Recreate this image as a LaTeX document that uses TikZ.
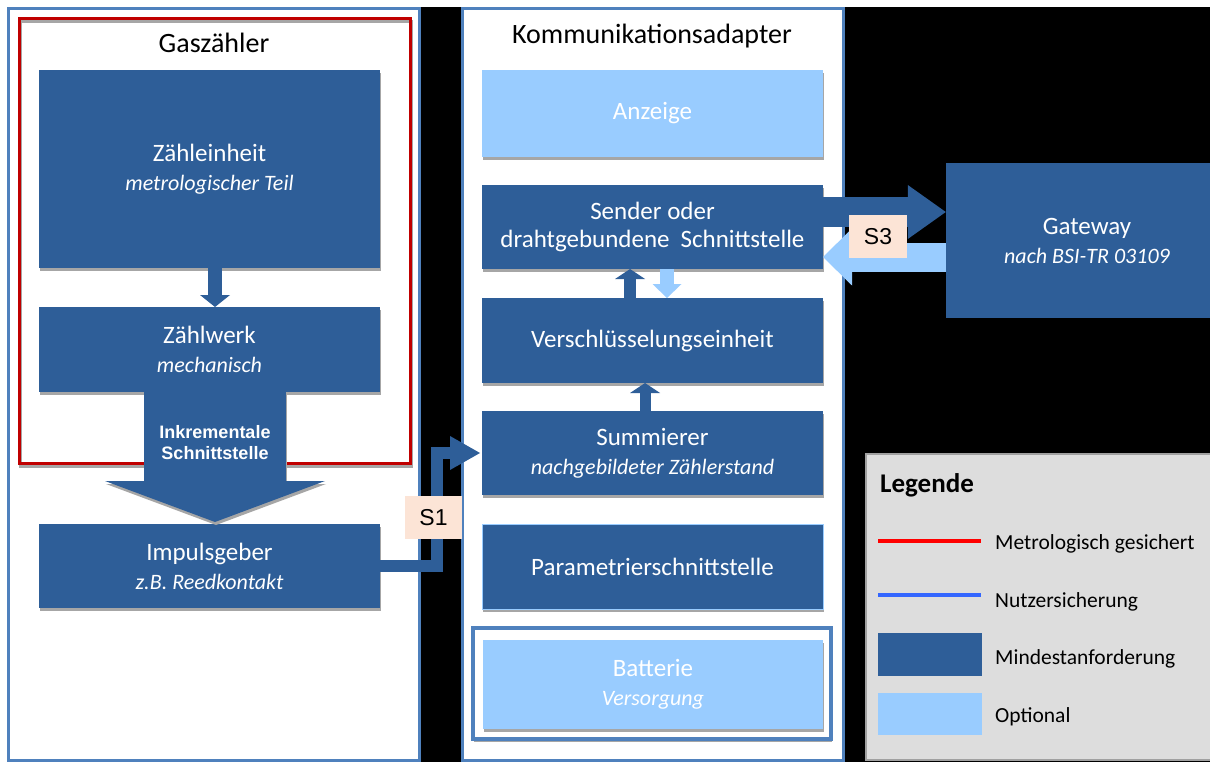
\documentclass[tikz,border=0pt]{standalone}
\usepackage{fontspec}
\setmainfont{Carlito}
\newfontfamily\arialf{Liberation Sans}
\usetikzlibrary{arrows.meta,shadows,calc}
\definecolor{dkblue}{RGB}{46,94,152}
\definecolor{ltblue}{RGB}{153,204,255}
\definecolor{panelblue}{RGB}{79,129,189}
\definecolor{metred}{RGB}{192,0,0}
\definecolor{peach}{RGB}{252,228,214}
\definecolor{leggray}{RGB}{221,221,221}
\definecolor{legborder}{RGB}{160,160,160}
\definecolor{shadowgray}{RGB}{166,166,166}
\definecolor{legred}{RGB}{255,0,0}
\definecolor{legblue}{RGB}{51,102,255}
\newcommand\subitline[1]{{\fontsize{22}{28}\selectfont\itshape #1}}
\begin{document}
\begin{tikzpicture}[x=1pt,y=-1pt,
  boxbase/.style={rectangle, inner sep=0pt, outer sep=0pt, text=white, align=center,
    font=\fontsize{25}{28}\selectfont,
    drop shadow={shadow xshift=1pt, shadow yshift=-3pt, fill=shadowgray, opacity=1}},
  darkbox/.style={boxbase, fill=dkblue, minimum width=341},
  lightbox/.style={boxbase, fill=ltblue, minimum width=341},
  panel/.style={rectangle, draw=panelblue, line width=3pt, fill=white, inner sep=0pt, outer sep=0pt},
  title/.style={anchor=base, font=\fontsize{28}{28}\selectfont, text=black},
  slabel/.style={rectangle, fill=peach, inner sep=0pt, minimum width=57, minimum height=43,
    font=\arialf\fontsize{23}{23}\selectfont},
  legtext/.style={anchor=base west, inner sep=0pt, font=\fontsize{21.5}{22}\selectfont},
]
\useasboundingbox (0,0) rectangle (1210,762);
\fill[white] (0,0) rectangle (1210,762);
\fill[black] (7,7) rectangle (1210,762);

% panels
\node[panel, minimum width=411, minimum height=752] (gzpanel) at (214,384.5) {};
\node[panel, minimum width=381, minimum height=752] (kapanel) at (653,384.5) {};

% metrological frame
\draw[shadowgray, line width=3pt] (20.5,21.5) rectangle (411.5,466.5);
\node[rectangle, draw=metred, line width=3pt, inner sep=0pt, minimum width=391, minimum height=445] (metro) at (215,241) {};

% titles
\node[title] (gztitle) at (214,53) {Gaszähler};
\node[title] (katitle) at (652,44) {Kommunikationsadapter};

% left boxes
\node[darkbox, minimum height=198] (ze) at (209.5,169) {Zähleinheit\\[1pt]\subitline{metrologischer Teil}};
\node[darkbox, minimum height=85] (zw) at (209.5,349.5) {Zählwerk\\[1pt]\subitline{mechanisch}};
\node[darkbox, minimum height=84] (ig) at (209.5,566) {Impulsgeber\\[1pt]\subitline{z.B. Reedkontakt}};

% right boxes
\node[lightbox, minimum height=87] (anz) at (652.5,113.5) {Anzeige};
\node[darkbox, minimum height=84] (sender) at (652.5,227) {Sender oder\\drahtgebundene\hspace{11pt}Schnittstelle};
\node[darkbox, minimum height=85] (versch) at (652.5,340.5) {Verschlüsselungseinheit};
\node[darkbox, minimum height=84] (summ) at (652.5,453) {Summierer\\[1pt]\subitline{nachgebildeter Zählerstand}};
\node[darkbox, minimum height=85, draw=ltblue, line width=1pt] (param) at (652.5,566.5) {Parametrierschnittstelle};
\node[boxbase, fill=white, draw=panelblue, line width=4pt, minimum width=358, minimum height=111] (battframe) at (652,683.5) {};
\node[lightbox, minimum width=340, minimum height=89] (batt) at (653,684.5) {Batterie\\[1pt]\subitline{Versorgung}};

% gateway
\node[rectangle, fill=dkblue, text=white, align=center, inner sep=0pt, minimum width=282, minimum height=155,
  font=\fontsize{25}{28}\selectfont] (gw) at (1087,240.5) {Gateway\\[1pt]\subitline{nach BSI-TR 03109}};

% arrows left
\draw[dkblue, line width=14pt, -{Triangle[width=30pt,length=12pt,line width=0pt]}]
  ([xshift=5.5pt]ze.south) -- ([xshift=5.5pt]zw.north);
\draw[shadowgray, line width=142pt, -{Triangle[width=220pt,length=41pt,line width=0pt]}]
  ([xshift=6.5pt,yshift=-3pt]zw.south) -- ([xshift=6.5pt,yshift=-1pt]ig.north);
\draw[dkblue, line width=142pt, -{Triangle[width=220pt,length=41pt,line width=0pt]}]
  ([xshift=5.5pt]zw.south) -- ([xshift=5.5pt,yshift=2pt]ig.north);
\node[text=white, align=center, font=\arialf\bfseries\fontsize{18}{21}\selectfont] (inkr) at (215,443) {Inkrementale\\Schnittstelle};

% S1 connector
\draw[dkblue, line width=12pt, -{Triangle[width=34pt,length=30pt,line width=0pt]}]
  (ig.east) -| ([xshift=-45pt]summ.west) -- ([xshift=-2pt]summ.west);
\node[slabel] (s1) at (433.5,517.5) {S1};

% arrows right panel
\draw[dkblue, line width=12pt, -{Triangle[width=30pt,length=10pt,line width=0pt]}]
  ([xshift=-22.5pt]versch.north) -- ([xshift=-22.5pt]sender.south);
\draw[ltblue, line width=14pt, -{Triangle[width=29pt,length=14pt,line width=0pt]}]
  ([xshift=14.5pt]sender.south) -- ([xshift=14.5pt]versch.north);
\draw[dkblue, line width=11pt, -{Triangle[width=30pt,length=10pt,line width=0pt]}]
  ([xshift=-7.5pt]summ.north) -- ([xshift=-7.5pt]versch.south);

% S3 arrows
\draw[dkblue, line width=30pt, -{Triangle[width=54pt,length=38pt,line width=0pt]}]
  ([yshift=15pt]sender.east) -- ([yshift=28.5pt]gw.west);
\draw[ltblue, line width=29pt, -{Triangle[width=57pt,length=29pt,line width=0pt]}]
  ([yshift=-16.5pt]gw.west) -- ([yshift=-30pt]sender.east);
\node[slabel, minimum width=58] (s3) at (878,236.5) {S3};

% legend
\node[rectangle, fill=leggray, draw=legborder, line width=1.5pt, inner sep=0pt, minimum width=346, minimum height=306] (legend) at (1039,607) {};
\node[anchor=base west, inner sep=0pt, font=\bfseries\fontsize{27}{27}\selectfont] (legt) at (880,492) {Legende};
\draw[legred, line width=3.5pt] (878,541) -- (981,541);
\draw[legblue, line width=3.5pt] (878,595) -- (981,595);
\node[rectangle, fill=dkblue, inner sep=0pt, minimum width=104, minimum height=43] (legdark) at (930,654.5) {};
\node[rectangle, fill=ltblue, inner sep=0pt, minimum width=104, minimum height=42] (leglight) at (930,714) {};
\node[legtext] (l1) at (995,549) {Metrologisch gesichert};
\node[legtext] (l2) at (995,607) {Nutzersicherung};
\node[legtext] (l3) at (995,664) {Mindestanforderung};
\node[legtext] (l4) at (995,722) {Optional};
\end{tikzpicture}
\end{document}
